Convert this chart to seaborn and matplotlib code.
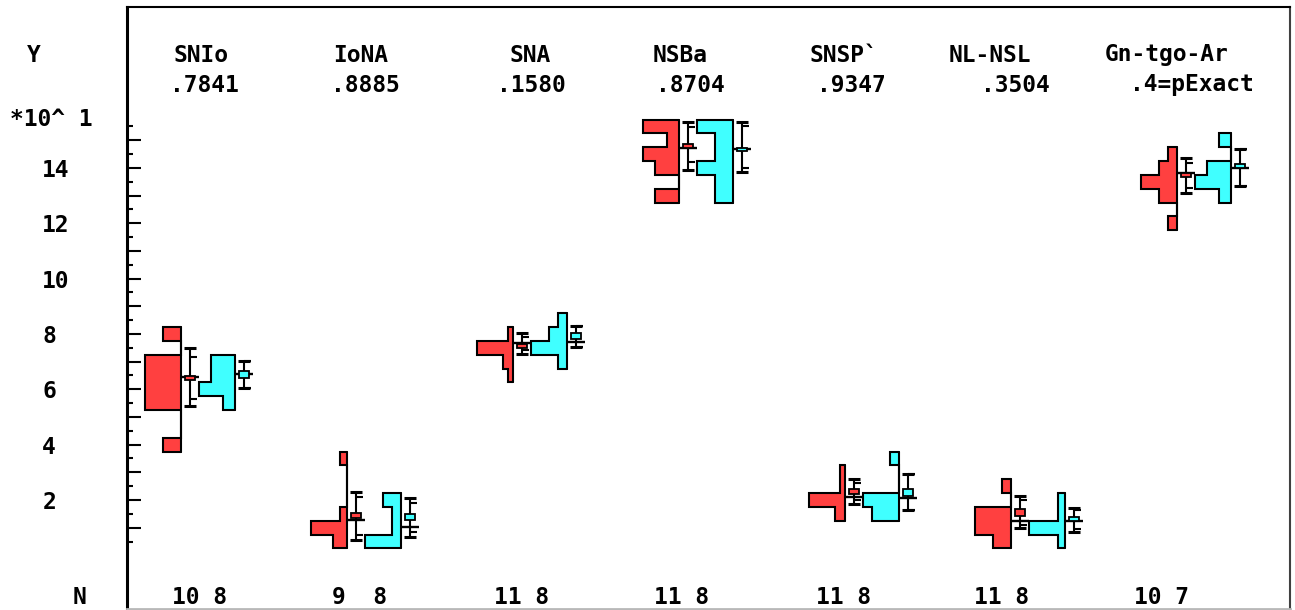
import numpy as np
import matplotlib
matplotlib.use("Agg")
import matplotlib.pyplot as plt
import seaborn as sns

# group labels and header texts
groups = ["SNIo", "IoNA", "SNA", "NSBa", "SNSP`", "NL-NSL", "Gn-tgo-Ar"]
pvals = [".7841", ".8885", ".1580", ".8704", ".9347", ".3504", ".4=pExact"]
n_labels = ["10 8", "9  8", "11 8", "11 8", "11 8", "11 8", "10 7"]

# histogram counts, bin width 0.5, first bin centre in *_start
red_start = [4.0, 0.5, 6.5, 13.0, 1.5, 0.5, 12.0]
red_counts = [
    [1, 0, 0, 2, 2, 2, 2, 0, 1],
    [2, 5, 1, 0, 0, 0, 1],
    [1, 2, 7, 1],
    [2, 0, 2, 3, 1, 3],
    [2, 7, 1, 1],
    [2, 4, 4, 0, 1],
    [1, 0, 2, 4, 2, 1],
]
cyan_start = [5.5, 0.5, 7.0, 13.0, 1.5, 0.5, 13.0]
cyan_counts = [
    [1, 3, 2, 2],
    [4, 1, 1, 2],
    [1, 4, 2, 1],
    [1, 1, 2, 1, 1, 2],
    [3, 4, 0, 0, 1],
    [1, 5, 1, 1],
    [1, 3, 2, 0, 1],
]

# summary marks (line, box, outer caps, inner ticks)
red_line = [6.46, 1.28, 7.67, 14.73, 2.12, 1.24, 13.82]
red_box_lo = [6.34, 1.35, 7.49, 14.72, 2.22, 1.42, 13.67]
red_box_hi = [6.48, 1.53, 7.64, 14.87, 2.40, 1.67, 13.82]
red_sd_lo = [5.40, 0.55, 7.28, 13.93, 1.86, 0.99, 13.10]
red_sd_hi = [7.49, 2.29, 8.04, 15.67, 2.76, 2.14, 14.36]
red_ci_lo = [5.65, 0.74, 7.42, 14.23, 2.00, 1.10, 13.28]
red_ci_hi = [7.17, 2.11, 7.89, 15.48, 2.61, 2.00, 14.18]

cyan_line = [6.55, 1.02, 7.71, 14.67, 2.07, 1.24, 14.00]
cyan_box_lo = [6.41, 1.28, 7.82, 14.62, 2.14, 1.24, 14.00]
cyan_box_hi = [6.67, 1.49, 8.04, 14.73, 2.40, 1.39, 14.14]
cyan_sd_lo = [6.06, 0.66, 7.53, 13.87, 1.64, 0.84, 13.35]
cyan_sd_hi = [7.02, 2.07, 8.29, 15.67, 2.94, 1.71, 14.69]
cyan_ci_lo = [6.06, 0.84, 7.53, 13.99, 1.64, 0.95, 13.35]
cyan_ci_hi = [7.02, 1.89, 8.29, 15.52, 2.94, 1.64, 14.69]

RED = "#ff4040"
CYAN = "#40ffff"

sns.set_style("white")
plt.rcParams["font.family"] = ["DejaVu Sans Mono"]
plt.rcParams["font.weight"] = "bold"
plt.rcParams["text.color"] = "black"
plt.rcParams["ytick.color"] = "black"
FS = 16.5

W, H = 1295, 610
fig = plt.figure(figsize=(W / 100, H / 100), dpi=100)
ax = fig.add_axes([127 / W, 1 - 609 / H, (1290 - 127) / W, (609 - 7) / H])

PX = 1 / 166  # one pixel in x data units
hist_w = 36 * PX


def draw_side(base, start, counts, color, line, blo, bhi, sdlo, sdhi, cilo, cihi):
    counts = np.array(counts, dtype=float)
    centers = start + 0.5 * np.arange(len(counts))
    widths = counts / counts.max() * hist_w
    ax.barh(centers, widths, left=base - widths, height=0.5, color=color, lw=0, zorder=2)
    edges = np.append(centers - 0.25, centers[-1] + 0.25)
    xs, ys = [base], [edges[0]]
    for i in range(len(counts)):
        xs += [base - widths[i], base - widths[i]]
        ys += [edges[i], edges[i + 1]]
    xs.append(base)
    ys.append(edges[-1])
    ax.plot(xs, ys, color="black", lw=1.5, zorder=3, solid_joinstyle="miter")
    ax.plot([base, base], [edges[0], edges[-1]], color="black", lw=1.5, zorder=3)
    eb = base + 9 * PX
    ax.plot([eb, eb], [sdlo, sdhi], color="black", lw=1.5, zorder=4)
    ax.hlines([sdlo, sdhi], eb - 6 * PX, eb + 6 * PX, color="black", lw=2.2, zorder=4)
    ax.hlines([cilo, cihi], eb, eb + 7 * PX, color="black", lw=1.5, zorder=4)
    ax.hlines(line, base, base + 18 * PX, color="black", lw=1.7, zorder=4)
    ax.bar(eb, bhi - blo, bottom=blo, width=10 * PX, color=color,
           edgecolor="black", lw=1.3, zorder=5)


for i in range(len(groups)):
    draw_side(i, red_start[i], red_counts[i], RED, red_line[i], red_box_lo[i],
              red_box_hi[i], red_sd_lo[i], red_sd_hi[i], red_ci_lo[i], red_ci_hi[i])
    draw_side(i + 54 * PX, cyan_start[i], cyan_counts[i], CYAN, cyan_line[i],
              cyan_box_lo[i], cyan_box_hi[i], cyan_sd_lo[i], cyan_sd_hi[i],
              cyan_ci_lo[i], cyan_ci_hi[i])

ax.set_xlim(-54 * PX, (1290 - 181) * PX)
ax.set_ylim(2 - 109 / 27.67, 2 + 493 / 27.67)
ax.set_xticks([])

major = np.arange(1, 16)
ax.set_yticks(major, [str(v) if v % 2 == 0 else "" for v in major])
ax.set_yticks(np.arange(0.5, 16, 1), minor=True)
ax.tick_params(axis="y", which="major", direction="in", length=10, width=1.5,
               pad=61, labelsize=FS, left=True, colors="black")
ax.tick_params(axis="y", which="minor", direction="in", length=4.5, width=1.5,
               left=True, colors="black")
for lab in ax.get_yticklabels():
    lab.set_horizontalalignment("left")
    lab.set_fontweight("bold")

ax.spines["left"].set_linewidth(2.2)
ax.spines["left"].set_color("black")
ax.spines["top"].set_linewidth(1.5)
ax.spines["top"].set_color("black")
ax.spines["right"].set_linewidth(1.5)
ax.spines["right"].set_color("#404040")
ax.spines["bottom"].set_linewidth(2)
ax.spines["bottom"].set_color("#b8b8b8")

# header and footer texts (pixel positions)
title_px = [201, 361, 530, 680, 844, 990, 1167]
pval_px = [204, 365, 531, 690, 851, 1015, 1192]
n_px = [200, 360, 521, 682, 843, 1002, 1162]
for i in range(len(groups)):
    fig.text(title_px[i] / W, 1 - 55 / H, groups[i], ha="center", va="center", fontsize=FS)
    fig.text(pval_px[i] / W, 1 - 85 / H, pvals[i], ha="center", va="center", fontsize=FS)
    fig.text(n_px[i] / W, 1 - 597 / H, n_labels[i], ha="center", va="center", fontsize=FS)

fig.text(34 / W, 1 - 56 / H, "Y", ha="center", va="center", fontsize=FS)
fig.text(10 / W, 1 - 120 / H, "*10^ 1", ha="left", va="center", fontsize=FS)
fig.text(80 / W, 1 - 597 / H, "N", ha="center", va="center", fontsize=FS)

fig.savefig("out.png", dpi=100, facecolor="white")
